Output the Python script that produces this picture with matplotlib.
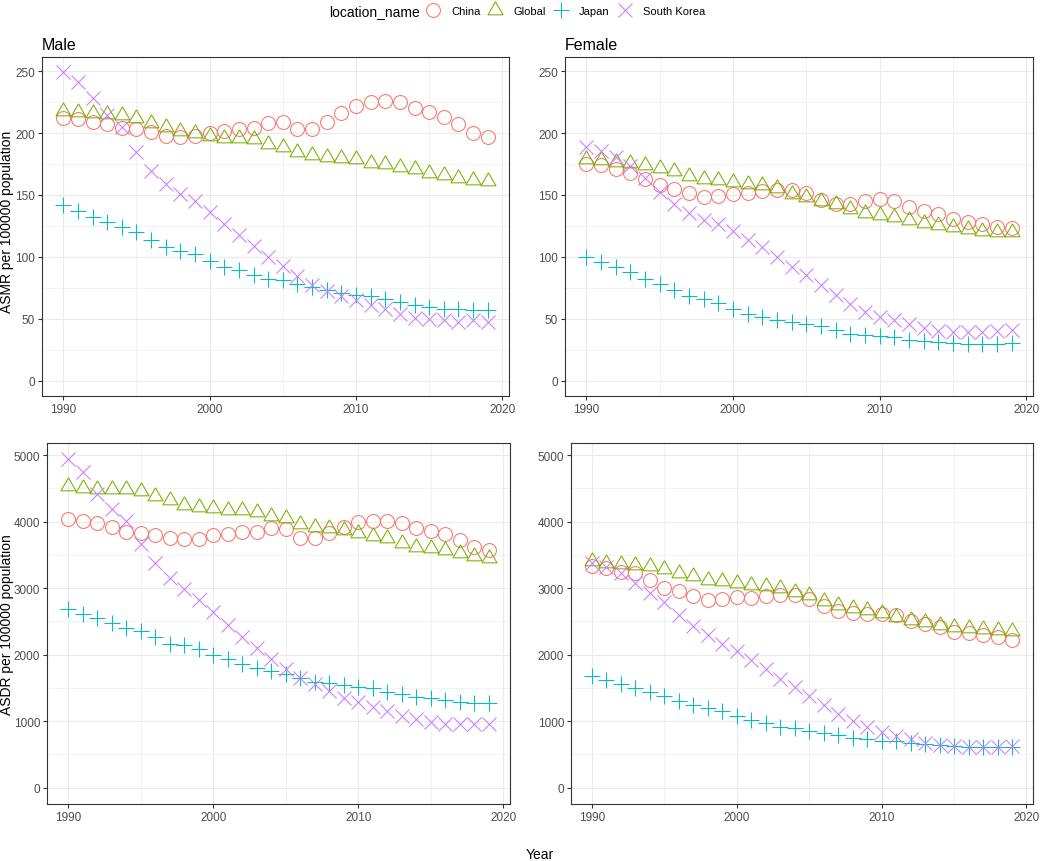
import numpy as np
import matplotlib.pyplot as plt
from matplotlib.lines import Line2D

plt.rcParams['font.family'] = ['Liberation Sans', 'DejaVu Sans']

years = list(range(1990, 2020))
locations = ["China", "Global", "Japan", "South Korea"]
colors = ["#F8766D", "#7CAE00", "#00BFC4", "#C77CFF"]

# ASMR, male
asmr_male_china = [212, 211, 209, 207, 204, 203, 201, 198, 197, 198, 200, 202, 203, 204, 208,
                   209, 203, 203, 209, 216, 222, 225, 226, 225, 220, 217, 213, 207, 200, 197]
asmr_male_global = [218, 217, 216, 215.5, 215, 212, 208, 205, 202, 200, 198, 196, 196, 195, 191,
                    189, 185, 182, 181, 180, 179, 176, 175, 173, 171, 168, 166, 164, 162, 161]
asmr_male_japan = [142, 137, 132, 128, 124, 120, 113.5, 108, 105, 102, 97, 92, 89, 85, 82,
                   81, 78, 76, 73, 71, 69.5, 68, 66, 63.5, 61, 59.5, 58, 57.5, 57, 57]
asmr_male_korea = [249, 241, 228, 215, 205, 185, 169, 159, 151, 145, 136.5, 126.5, 117.5, 108.6, 100,
                   92.4, 84.6, 77, 72.4, 68.4, 65, 61.4, 58, 54, 50.5, 50, 48.6, 47.3, 48.6, 47.3]

# ASMR, female
asmr_female_china = [175, 174, 171, 168, 163, 158, 155, 152, 148, 149, 151, 152, 153, 154, 154,
                     152, 146, 143, 143, 145, 146.5, 145.5, 140, 137, 135, 130.5, 128, 126.5, 124, 123]
asmr_female_global = [179, 178, 176.5, 175.7, 174, 171.6, 169, 165.7, 162.7, 162, 160.8, 159, 158, 155.4, 151,
                      148, 145, 142.7, 139, 135.7, 133.8, 132, 129.7, 127.6, 125.7, 124, 122.4, 121, 120, 119.7]
asmr_female_japan = [100, 96, 92, 88, 82.4, 78, 73, 68.4, 65.7, 62.7, 57.6, 53.5, 51, 48.6, 47.3,
                     45.4, 43.8, 40.5, 37.8, 36.5, 35.7, 34.9, 33.2, 31.9, 31, 30.3, 29.7, 29.5, 29.7, 30]
asmr_female_korea = [189, 185.7, 181, 173.5, 163.5, 152.7, 142.7, 135.7, 129.7, 126.5, 121, 113.5, 107.6, 99.5, 92,
                     85, 77, 69.5, 61.6, 55.4, 51.4, 49.2, 46, 42.4, 39.7, 39.2, 39.2, 39.2, 39.7, 41]

# ASDR, male
asdr_male_china = [4038, 4003, 3978, 3922, 3846, 3826, 3800, 3760, 3735, 3735, 3795, 3810, 3836, 3836, 3902,
                   3886, 3760, 3750, 3826, 3912, 3998, 4013, 4003, 3973, 3902, 3851, 3810, 3720, 3623, 3568]
asdr_male_global = [4534, 4504, 4484, 4494, 4494, 4453, 4383, 4317, 4256, 4226, 4205, 4180, 4175, 4150, 4079,
                    4054, 3963, 3912, 3897, 3871, 3826, 3785, 3750, 3684, 3623, 3608, 3568, 3522, 3482, 3446]
asdr_male_japan = [2682, 2611, 2545, 2470, 2394, 2358, 2257, 2166, 2141, 2090, 1989, 1928, 1862, 1802, 1746,
                   1710, 1650, 1584, 1569, 1543, 1518, 1493, 1442, 1407, 1366, 1341, 1321, 1290, 1275, 1265]
asdr_male_korea = [4934, 4747, 4418, 4190, 4013, 3659, 3380, 3153, 2986, 2824, 2647, 2444, 2267, 2100, 1938,
                   1776, 1650, 1559, 1447, 1346, 1280, 1204, 1144, 1078, 1027, 992, 962, 951, 951, 951]

# ASDR, female
asdr_female_china = [3330, 3295, 3244, 3219, 3117, 3001, 2950, 2874, 2824, 2834, 2859, 2849, 2874, 2890, 2890,
                     2834, 2723, 2657, 2632, 2611, 2611, 2591, 2510, 2459, 2409, 2343, 2318, 2293, 2267, 2217]
asdr_female_global = [3406, 3381, 3355, 3345, 3330, 3279, 3229, 3178, 3128, 3102, 3077, 3042, 3026, 3001, 2940,
                      2890, 2799, 2748, 2697, 2672, 2621, 2571, 2520, 2485, 2444, 2419, 2394, 2379, 2368, 2353]
asdr_female_japan = [1685, 1619, 1559, 1498, 1432, 1381, 1306, 1240, 1194, 1144, 1078, 1012, 967, 916, 891,
                     851, 825, 790, 749, 724, 699, 699, 673, 648, 633, 622, 612, 607, 607, 607]
asdr_female_korea = [3381, 3320, 3229, 3077, 2925, 2783, 2596, 2434, 2293, 2166, 2055, 1913, 1786, 1635, 1508,
                     1381, 1245, 1113, 1002, 911, 840, 774, 724, 673, 633, 622, 607, 607, 607, 622]

panels = [
    ("Male", [asmr_male_china, asmr_male_global, asmr_male_japan, asmr_male_korea]),
    ("Female", [asmr_female_china, asmr_female_global, asmr_female_japan, asmr_female_korea]),
    (None, [asdr_male_china, asdr_male_global, asdr_male_japan, asdr_male_korea]),
    (None, [asdr_female_china, asdr_female_global, asdr_female_japan, asdr_female_korea]),
]

# R style open triangle, centred on its centroid
tri = [(0, 1), (-0.866, -0.5), (0.866, -0.5), (0, 1)]
markers = ["o", tri, "+", "x"]
msizes = [10, 12.5, 11, 9.5]
mew = 0.75

W, H = 1040, 862
fig = plt.figure(figsize=(W / 100, H / 100), dpi=100)

# axes boxes in pixels: left, top, right, bottom
boxes = [(42, 58, 509, 397), (565, 58, 1033, 397),
         (47, 444, 510, 805), (571, 444, 1033, 805)]

grid_col = "#EBEBEB"
for i, (title, series) in enumerate(panels):
    l, t, r, b = boxes[i]
    ax = fig.add_axes([l / W, 1 - b / H, (r - l) / W, (b - t) / H])
    for vals, mk, ms, col in zip(series, markers, msizes, colors):
        ax.plot(years, vals, linestyle="none", marker=mk, markersize=ms,
                markerfacecolor="none", markeredgecolor=col, markeredgewidth=mew,
                color=col)
    ax.set_xlim(1988.55, 2020.45)
    ax.set_xticks([1990, 2000, 2010, 2020])
    ax.set_xticks([1995, 2005, 2015], minor=True)
    if i < 2:
        ax.set_ylim(-12.45, 261.5)
        ax.set_yticks([0, 50, 100, 150, 200, 250])
        ax.set_yticks([25, 75, 125, 175, 225], minor=True)
    else:
        ax.set_ylim(-247, 5181)
        ax.set_yticks([0, 1000, 2000, 3000, 4000, 5000])
        ax.set_yticks([500, 1500, 2500, 3500, 4500], minor=True)
    ax.grid(True, which="major", color=grid_col, linewidth=0.8)
    ax.grid(True, which="minor", color=grid_col, linewidth=0.45)
    ax.set_axisbelow(True)
    for sp in ax.spines.values():
        sp.set_color("#333333")
        sp.set_linewidth(0.8)
    ax.tick_params(which="major", length=3, width=0.8, color="#333333",
                   labelcolor="#4D4D4D", labelsize=8.5, pad=2)
    ax.tick_params(which="minor", length=0)
    if title:
        ax.set_title(title, loc="left", fontsize=11.5, pad=6)

fig.text(7 / W, 1 - 222 / H, "ASMR per 100000 population", rotation=90,
         ha="center", va="center", fontsize=10)
fig.text(7 / W, 1 - 625 / H, "ASDR per 100000 population", rotation=90,
         ha="center", va="center", fontsize=10)
fig.text(540 / W, 1 - 855 / H, "Year", ha="center", va="center", fontsize=10)

# legend across the top
fig.text(374 / W, 1 - 12 / H, "location_name", ha="center", va="center", fontsize=10)
handles = [Line2D([], [], linestyle="none", marker=mk, markersize=ms, markerfacecolor="none",
                  markeredgecolor=col, markeredgewidth=mew)
           for mk, ms, col in zip(markers, msizes, colors)]
fig.legend(handles, locations, loc="center left", bbox_to_anchor=(426 / W, 1 - 12 / H),
           ncol=4, frameon=False, fontsize=8, handlelength=1.26, handletextpad=1.0,
           columnspacing=0.72, borderaxespad=0, borderpad=0)

fig.savefig("out.png", dpi=100)
